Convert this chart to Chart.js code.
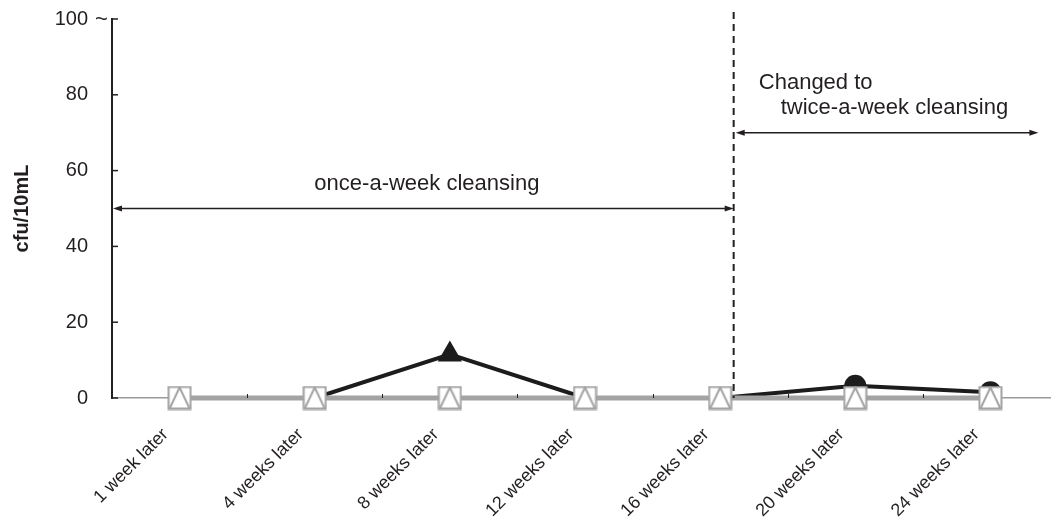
<!DOCTYPE html>
<html>
<head>
    <title>cfu/10mL over time</title>
    <script src="https://cdn.jsdelivr.net/npm/chart.js"></script>
    <style>
        html, body {
            margin: 0;
            padding: 0;
            background: #fff;
        }

        .frame {
            width: 1051px;
            height: 526px;
            overflow: hidden;
        }
    </style>
</head>
<body>
<div class="frame">
    <canvas id="chart" width="1075" height="526"></canvas>
</div>

<script>
    // data
    const timepoints = ['1 week later', '4 weeks later', '8 weeks later', '12 weeks later',
        '16 weeks later', '20 weeks later', '24 weeks later'];
    const blackSeries = [0, 0, 11.5, 0, 0, 3.2, 1.5];
    const graySeries = [0, 0, 0, 0, 0, 0, 0];
    const yTicks = [0, 20, 40, 60, 80, 100];
    const topTickSuffix = '~';
    const yTitle = 'cfu/10mL';

    // period annotations (text, in data units: x = category index, y = cfu)
    const changeAt = 4.1;
    const onceText = 'once-a-week cleansing';
    const twiceText = ['Changed to', 'twice-a-week cleansing'];

    const ink = '#231f20';
    const gray = '#a3a3a3';
    const font = "'Liberation Sans', Arial, sans-serif";

    // open square with an open triangle inside, used as marker for the gray series
    function squareTriangle() {
        const c = document.createElement('canvas');
        c.width = 25;
        c.height = 25;
        const g = c.getContext('2d');
        g.fillStyle = '#fff';
        g.fillRect(1.5, 1.5, 22, 22);
        g.strokeStyle = gray;
        g.lineWidth = 2;
        g.strokeRect(1.5, 1.5, 22, 22);
        g.beginPath();
        g.moveTo(12.5, 2);
        g.lineTo(2.5, 23);
        g.lineTo(22.5, 23);
        g.closePath();
        g.stroke();
        return c;
    }

    const marker = squareTriangle();

    function arrow(ctx, x1, x2, y) {
        ctx.beginPath();
        ctx.moveTo(x1 + 4, y);
        ctx.lineTo(x2 - 4, y);
        ctx.stroke();
        [[x1, 1], [x2, -1]].forEach(([x, d]) => {
            ctx.beginPath();
            ctx.moveTo(x, y);
            ctx.lineTo(x + 9 * d, y - 3);
            ctx.lineTo(x + 9 * d, y + 3);
            ctx.closePath();
            ctx.fill();
        });
    }

    const extras = {
        id: 'extras',
        afterDraw(chart) {
            const ctx = chart.ctx;
            const xs = chart.scales.x;
            const ys = chart.scales.y;
            ctx.save();
            ctx.strokeStyle = ink;
            ctx.fillStyle = ink;

            // inward ticks on the y axis
            ctx.lineWidth = 1.5;
            yTicks.forEach(v => {
                const y = ys.getPixelForValue(v);
                ctx.beginPath();
                ctx.moveTo(xs.left, y);
                ctx.lineTo(xs.left + 6, y);
                ctx.stroke();
            });
            ctx.font = '22px ' + font;
            ctx.textAlign = 'left';
            ctx.textBaseline = 'middle';
            ctx.fillText(topTickSuffix, xs.left - 17, ys.getPixelForValue(100) + 1);

            // small ticks between categories
            ctx.lineWidth = 1;
            for (let i = 0; i < timepoints.length - 1; i++) {
                const x = Math.round(xs.getPixelForValue(i + 0.5)) + 0.5;
                ctx.beginPath();
                ctx.moveTo(x, ys.bottom);
                ctx.lineTo(x, ys.bottom - 4);
                ctx.stroke();
            }

            // dashed change line
            const cx = xs.getPixelForValue(changeAt);
            ctx.lineWidth = 2;
            ctx.setLineDash([7, 5]);
            ctx.beginPath();
            ctx.moveTo(cx, ys.top - 7);
            ctx.lineTo(cx, ys.bottom);
            ctx.stroke();
            ctx.setLineDash([]);

            // period arrows
            ctx.lineWidth = 1.5;
            arrow(ctx, xs.left + 1, cx, ys.getPixelForValue(50));
            arrow(ctx, cx + 2, xs.getPixelForValue(6.355), ys.getPixelForValue(70));

            // period texts
            ctx.font = '22px ' + font;
            ctx.textAlign = 'center';
            ctx.fillText(onceText, xs.getPixelForValue(1.83), ys.getPixelForValue(56.5));
            ctx.textAlign = 'left';
            ctx.fillText(twiceText[0], xs.getPixelForValue(4.286), ys.getPixelForValue(83.2));
            ctx.fillText(twiceText[1], xs.getPixelForValue(4.448), ys.getPixelForValue(76.5));
            ctx.restore();
        }
    };

    const chart = new Chart(document.getElementById('chart'), {
        type: 'line',
        data: {
            labels: timepoints,
            datasets: [{
                label: 'gray',
                data: graySeries,
                borderColor: gray,
                borderWidth: 5,
                pointStyle: marker,
                pointRadius: 12,
                clip: false,
                tension: 0
            }, {
                label: 'black',
                data: blackSeries,
                borderColor: '#1c1c1c',
                backgroundColor: '#1c1c1c',
                borderWidth: 4,
                pointStyle: c => c.dataIndex >= 5 ? 'circle' : 'triangle',
                pointRadius: c => c.raw > 0 ? (c.dataIndex >= 5 ? 11 : 14) : 0,
                pointBorderWidth: 0,
                clip: false,
                tension: 0
            }]
        },
        options: {
            responsive: false,
            animation: false,
            layout: {
                padding: {top: 19, left: 0, right: 0, bottom: 0}
            },
            plugins: {
                legend: {display: false},
                tooltip: {enabled: false}
            },
            scales: {
                x: {
                    offset: true,
                    grid: {display: false},
                    border: {display: true, color: '#9a9a9a', width: 1.5},
                    ticks: {
                        color: ink,
                        font: {family: font, size: 18},
                        minRotation: 45,
                        maxRotation: 45,
                        autoSkip: false,
                        padding: 18,
                        labelOffset: -14
                    },
                    afterFit: s => {
                        s.height = 128;
                        s.paddingLeft = 0;
                        s.paddingRight = 0;
                    }
                },
                y: {
                    min: 0,
                    max: 100,
                    afterBuildTicks: s => { s.ticks = yTicks.map(v => ({value: v})); },
                    grid: {display: false},
                    border: {display: true, color: ink, width: 2},
                    ticks: {
                        color: ink,
                        font: {family: font, size: 20},
                        padding: 16
                    },
                    title: {
                        display: true,
                        text: yTitle,
                        color: ink,
                        font: {family: font, size: 20, weight: 'bold'},
                        padding: {top: 10, bottom: 0}
                    },
                    afterFit: s => {
                        s.width = 112;
                        s.paddingTop = 0;
                        s.paddingBottom = 0;
                    }
                }
            }
        },
        plugins: [extras]
    });
</script>
</body>
</html>
